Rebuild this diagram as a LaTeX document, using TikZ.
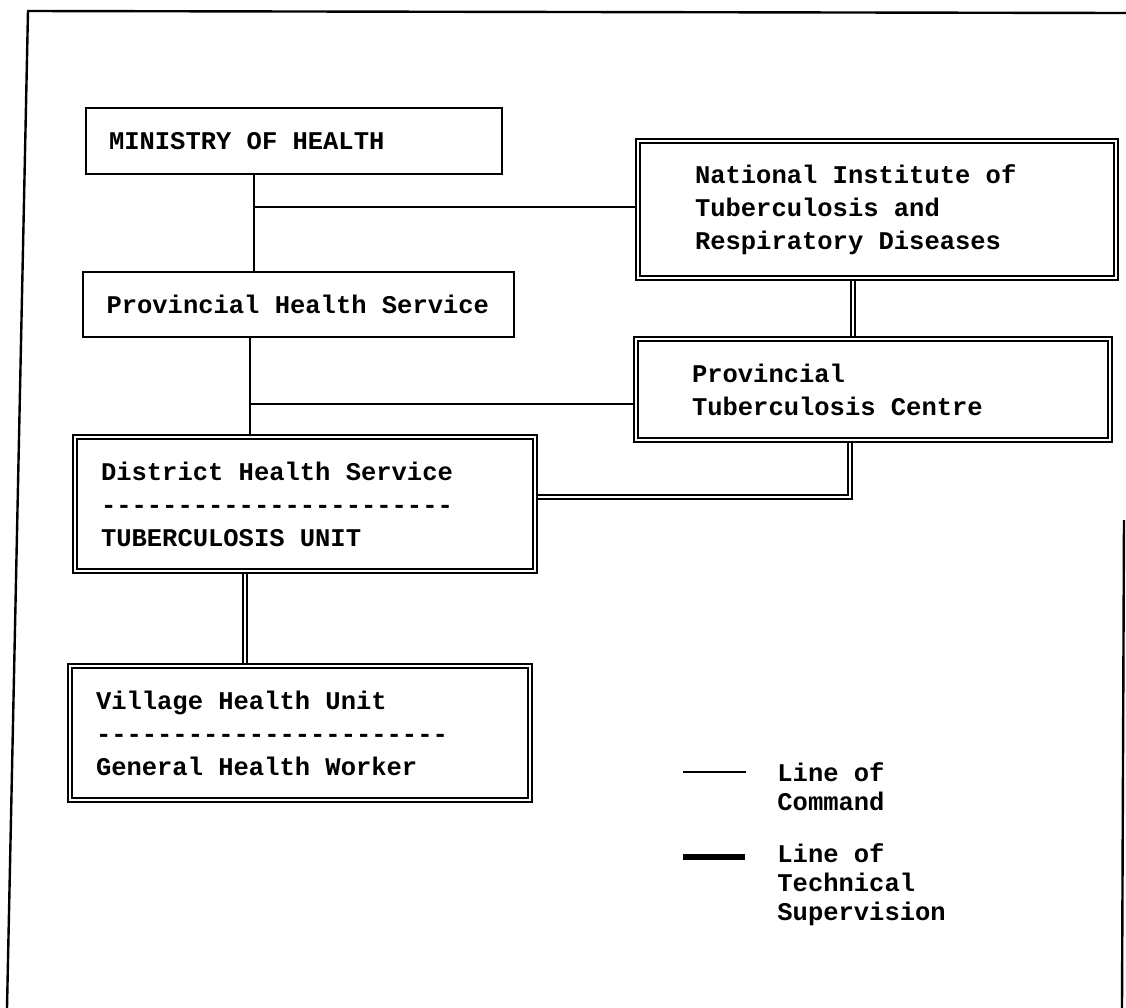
\documentclass[tikz,border=0pt]{standalone}
\usepackage{fontspec}
\setmonofont{Liberation Mono}
\usetikzlibrary{backgrounds}
\begin{document}
\begin{tikzpicture}[x=0.5pt,y=-0.5pt,
  every node/.style={font=\ttfamily\bfseries\fontsize{12.75}{16.5}\selectfont, execute at begin node={\spaceskip=7.65pt\relax\xspaceskip=7.65pt\relax}},
  plainbox/.style={draw, line width=1pt, fill=white, anchor=north west, align=left, inner ysep=0pt, outer sep=0pt},
  dblbox/.style={draw, line width=1.1pt, double, double distance=1pt, fill=white, anchor=north west, align=left, inner ysep=0pt, outer sep=0pt},
  cmd/.style={line width=1pt},
  sup/.style={line width=1.1pt, double, double distance=1pt},
  legsup/.style={line width=2.6pt},
  legtext/.style={anchor=west, align=left, inner sep=0pt, font=\ttfamily\bfseries\fontsize{12.75}{14.5}\selectfont}
]
\useasboundingbox (0,0) rectangle (1126,1008);
% frame (scanned page border)
\draw[line width=1.2pt] (7,1008) -- (28,11) -- (1126,13);
\draw[line width=1.2pt] (1124,520) -- (1122,1008);

% boxes
\node[plainbox, minimum width=208pt, minimum height=33pt, text width=185pt, inner xsep=11.5pt] (min) at (86,108) {MINISTRY OF HEALTH};
\node[plainbox, minimum width=215.5pt, minimum height=32.5pt, text width=192pt, inner xsep=11.5pt] (phs) at (83,272) {Provincial Health Service};
\node[dblbox, minimum width=211pt, minimum height=68.5pt, text width=182pt, inner xsep=28.5pt] (ni) at (638,141) {National Institute of\\Tuberculosis and\\Respiratory Diseases};
\node[dblbox, minimum width=209.5pt, minimum height=50.5pt, text width=181pt, inner xsep=28pt] (ptc) at (636,339) {Provincial\\Tuberculosis Centre};
\node[dblbox, minimum width=218pt, minimum height=67pt, text width=204pt, inner xsep=13pt] (dhs) at (75,437) {District Health Service\\-----------------------\\TUBERCULOSIS UNIT};
\node[dblbox, minimum width=218.5pt, minimum height=67pt, text width=204pt, inner xsep=13pt] (vhu) at (70,666) {Village Health Unit\\-----------------------\\General Health Worker};

% helper coordinates
\coordinate (c1) at (254,207);
\coordinate (c2) at (250,404);
\coordinate (c3) at (853,300);
\coordinate (c4) at (850,497);
\coordinate (c6) at (245,620);

\begin{scope}[on background layer]
\draw[cmd] (min.south -| c1) -- (phs.north -| c1);
\draw[cmd] (c1) -- (c1 -| ni.west);
\draw[cmd] (phs.south -| c2) -- (dhs.north -| c2);
\draw[cmd] (c2) -- (c2 -| ptc.west);
\draw[sup] (ni.south -| c3) -- (ptc.north -| c3);
\draw[sup] (ptc.south -| c4) -- (c4) -- (c4 -| dhs.east);
\draw[sup] (dhs.south -| c6) -- (vhu.north -| c6);
\end{scope}

% legend
\coordinate (l1a) at (683,772);
\coordinate (l1b) at (746,772);
\coordinate (l2a) at (683,857);
\coordinate (l2b) at (745,857);
\draw[cmd] (l1a) -- (l1b);
\draw[legsup] (l2a) -- (l2b);
\node[legtext] (lg1) at (777,786.5) {Line of\\Command};
\node[legtext] (lg2) at (777,885) {Line of\\Technical\\Supervision};
\end{tikzpicture}
\end{document}
